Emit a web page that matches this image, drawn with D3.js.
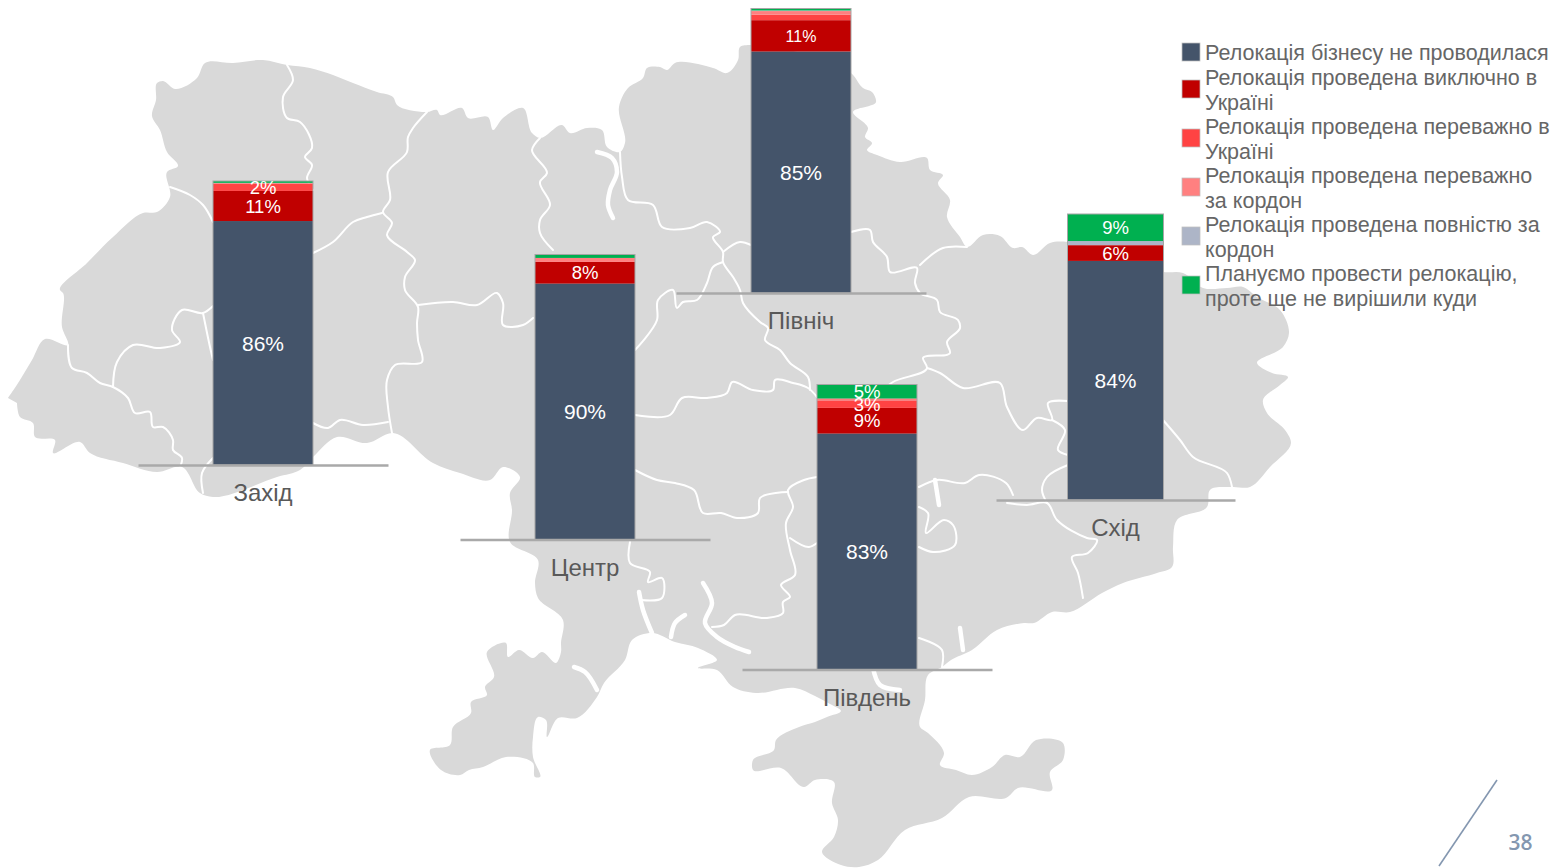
<!DOCTYPE html>
<html lang="uk">
<head>
<meta charset="utf-8">
<script src="https://cdn.jsdelivr.net/npm/d3@7"></script>
<style>
html,body{margin:0;padding:0;background:#fff;overflow:hidden}
svg{display:block;font-family:"Liberation Sans",Arial,sans-serif}
</style>
</head>
<body>
<svg id="c" width="1554" height="868"></svg>
<script>
// ---------- chart data (percent) ----------
const categories = ["Захід","Центр","Північ","Південь","Схід"];
const notRelocated   = [85.9, 89.8, 84.9, 82.8, 83.6];
const onlyUkraine    = [10.6,  7.6, 11.0,  9.0,  5.5];
const mostlyUkraine  = [2.45,  0.0,  1.9,  2.6,  0.0];
const mostlyAbroad   = [0.30,  1.4,  1.3,  0.7,  0.0];
const fullyAbroad    = [0.10,  0.0,  0.2,  0.0, 1.45];
const planned        = [0.65,  1.2,  0.7,  4.9, 9.45];
const seriesNames = [
  ["Релокація бізнесу не проводилася"],
  ["Релокація проведена виключно в","Україні"],
  ["Релокація проведена переважно в","Україні"],
  ["Релокація проведена переважно","за кордон"],
  ["Релокація проведена повністю за","кордон"],
  ["Плануємо провести релокацію,","проте ще не вирішили куди"]
];
const seriesValues = [notRelocated, onlyUkraine, mostlyUkraine, mostlyAbroad, fullyAbroad, planned];
const seriesColors = ["#44546a","#c00000","#ff4343","#ff8080","#adb5c7","#00b050"];
const pageNumber = "38";

// ---------- layout of the small charts placed over the map ----------
const axisLeft  = [138, 460, 676, 742, 996];
const axisRight = [388, 710, 926, 992, 1235];
const barWidth  = [100, 100, 100, 100, 96];
const plotBase  = [465, 539.5, 293, 669.5, 500];
const plotTop   = [181, 254.5, 8.5, 384.5, 214];

// ---------- background map outline (decorative, traced in page pixels) ----------
const mapOutline = [[8,398],[20,380],[32,360],[45,339],[68,345],[62,327],[63,293],[60,290],[87,263],[113,237],[143,213],[157,212],[170,197],[167,172],[178,166],[167,152],[160,130],[152,116],[156,100],[157,83],[163,81],[175,89],[197,78],[205,63],[233,63],[263,60],[287,65],[310,68],[333,75],[353,83],[377,92],[393,97],[397,105],[427,112],[437,110],[440,115],[462,108],[468,118],[488,117],[493,130],[503,118],[523,108],[532,133],[540,138],[562,125],[570,133],[587,128],[602,130],[607,147],[620,152],[625,143],[619,107],[628,88],[643,78],[647,68],[660,67],[667,70],[675,63],[713,68],[727,73],[738,60],[740,47],[751,45],[851,73],[863,88],[872,92],[876,102],[853,112],[868,128],[865,137],[872,143],[867,150],[877,155],[900,162],[927,158],[930,170],[943,175],[938,183],[950,200],[947,217],[960,237],[967,247],[983,235],[1000,236],[1013,248],[1022,247],[1033,255],[1050,243],[1068,242],[1163,272],[1183,273],[1203,288],[1227,288],[1243,287],[1257,297],[1280,310],[1289,333],[1283,347],[1257,363],[1272,373],[1288,377],[1280,385],[1263,400],[1267,413],[1285,430],[1291,443],[1270,467],[1250,487],[1232,487],[1210,490],[1207,507],[1177,520],[1173,547],[1172,567],[1157,573],[1123,583],[1102,593],[1070,612],[1052,612],[1034,623],[1024,623],[997,630],[972,650],[951,660],[942,667],[928,675],[925,700],[920,727],[928,733],[944,753],[940,765],[956,770],[972,775],[992,767],[1005,755],[1020,757],[1036,740],[1063,743],[1063,760],[1050,772],[1052,790],[1018,788],[1006,798],[969,797],[942,818],[905,830],[878,860],[859,867],[841,865],[822,852],[834,837],[838,820],[832,803],[834,782],[815,780],[804,787],[781,768],[753,770],[753,760],[774,750],[776,740],[799,727],[815,722],[827,717],[841,711],[830,704],[815,696],[795,688],[756,693],[733,687],[717,670],[698,668],[717,660],[698,648],[675,642],[652,633],[632,640],[625,660],[604,683],[597,697],[577,718],[558,718],[547,737],[546,720],[538,717],[533,737],[533,757],[540,777],[535,777],[533,763],[506,757],[483,767],[469,770],[460,775],[441,770],[430,750],[450,745],[453,727],[471,713],[471,702],[487,695],[485,687],[494,677],[487,652],[506,643],[508,657],[519,650],[533,658],[542,652],[556,663],[561,652],[561,643],[563,620],[538,598],[535,583],[538,560],[510,542],[512,510],[510,493],[520,477],[503,467],[490,480],[460,473],[433,463],[393,433],[367,443],[337,437],[313,457],[300,470],[277,477],[213,497],[200,493],[182,467],[157,472],[123,463],[90,453],[80,442],[53,453],[55,440],[35,437],[33,423],[20,417],[17,403]];
const mapBorders = [
 [[287,65],[293,80],[283,97],[287,118],[300,122],[312,148],[305,157],[312,165],[307,178],[313,190]],
 [[170,187],[190,195],[203,205],[213,222]],
 [[427,112],[413,128],[408,137],[407,152],[388,172],[390,200],[383,212],[392,223],[387,235],[407,252],[415,260],[405,277],[405,290],[418,307],[417,323],[418,340],[422,362],[395,365],[387,380],[388,407],[392,433]],
 [[313,253],[333,242],[353,222],[367,217],[382,213]],
 [[313,423],[328,428],[340,420],[363,425],[388,422]],
 [[418,305],[453,302],[477,305],[497,293],[503,303],[503,325],[523,325],[533,318]],
 [[68,345],[72,368],[87,373],[100,383],[113,387],[128,398],[135,413],[150,412],[153,427],[163,427],[173,440],[173,450],[182,458],[180,467]],
 [[113,387],[117,362],[133,345],[160,348],[180,342],[172,330],[182,310],[203,313],[213,306]],
 [[203,313],[210,347],[213,360]],
 [[213,458],[202,473],[203,493]],
 [[540,138],[532,150],[547,173],[540,182],[550,205],[540,220],[540,233],[553,250]],
 [[620,152],[622,177],[628,200],[653,205],[662,227],[690,228],[707,222],[720,232],[713,237],[723,252],[723,262],[733,277],[740,290],[743,303],[760,322],[768,328],[765,340],[780,350],[790,363],[808,377],[810,390]],
 [[723,252],[740,242],[751,245]],
 [[723,262],[713,267],[707,283],[697,300],[683,302],[677,308],[673,290],[658,300],[657,320],[635,350]],
 [[635,415],[670,415],[682,398],[707,398],[727,393],[732,382],[753,390],[773,390],[775,380],[793,383],[808,388],[817,397]],
 [[851,232],[870,230],[873,242],[887,257],[890,272],[917,268],[915,283],[920,293],[937,300],[940,312],[958,320],[960,328],[947,342],[950,353],[923,358],[927,368],[893,382],[880,392]],
 [[967,247],[943,248],[920,265]],
 [[927,368],[940,373],[963,388],[1000,383],[1007,407],[1023,430],[1037,418],[1052,420],[1048,403],[1068,401]],
 [[1052,420],[1065,430],[1058,450],[1068,455]],
 [[1068,465],[1047,477],[1042,490],[1047,503]],
 [[919,487],[937,480],[965,483],[979,475],[1006,483],[1013,495]],
 [[1007,503],[1027,505],[1047,503],[1057,520],[1087,538],[1097,540],[1088,553],[1072,557],[1078,573],[1083,598]],
 [[1163,420],[1180,440],[1193,457],[1227,473],[1232,487]],
 [[630,542],[630,563],[650,572],[648,582],[662,578],[662,598],[641,600]],
 [[712,627],[724,625],[735,615],[767,618],[783,613],[783,602],[790,597],[781,585],[795,575],[790,550],[786,523],[793,507],[788,490],[804,480],[817,477]],
 [[790,538],[809,547],[817,543]],
 [[788,492],[760,498],[758,513],[737,518],[721,513],[703,513],[694,490],[675,483],[657,480],[635,470]],
 [[919,507],[928,513],[926,533],[944,520],[953,525],[955,545],[933,552],[919,547]],
 [[919,638],[942,650],[942,667]]
];
const mapWaters = [
 [[597,152],[612,158],[617,172],[610,190],[608,205],[613,218]],
 [[935,480],[939,505]],
 [[639,592],[643,610],[652,633]],
 [[685,615],[675,623],[671,637]],
 [[703,583],[712,603],[705,623],[717,637],[735,647],[749,652]],
 [[574,667],[585,672],[597,690]],
 [[960,628],[963,650]],
 [[873,668],[880,685],[900,690]]
];

// ---------- drawing ----------
const svg = d3.select("#c");
const straight = d3.line();
const smooth = d3.line().curve(d3.curveCatmullRom.alpha(0.7));

const mapG = svg.append("g");
mapG.append("path").attr("d", smooth(mapOutline) + "Z").attr("fill", "#d9d9d9");
mapG.selectAll("path.b").data(mapBorders).join("path").attr("class","b")
  .attr("d", smooth).attr("fill","none").attr("stroke","#fff").attr("stroke-width",2)
  .attr("stroke-linejoin","round").attr("stroke-linecap","round");
mapG.selectAll("path.w").data(mapWaters).join("path").attr("class","w")
  .attr("d", smooth).attr("fill","none").attr("stroke","#fff").attr("stroke-width",4.5)
  .attr("stroke-linejoin","round").attr("stroke-linecap","round");

const labelSize = (cat, si) => si === 0 ? 21 : (cat === "Північ" ? 16 : 18.5);

categories.forEach((cat, i) => {
  const R = axisRight[i] - axisLeft[i];
  const ratio = barWidth[i] / R;
  const pad = (1 - ratio) / (1 + ratio);
  const x = d3.scaleBand().domain([cat]).range([axisLeft[i], axisRight[i]]).padding(pad);
  const y = d3.scaleLinear().domain([0, 100]).range([plotBase[i], plotTop[i]]);
  const g = svg.append("g");

  const stack = [];
  let acc = 0;
  seriesValues.forEach((vals, si) => {
    stack.push({si, v: vals[i], y0: acc, y1: acc + vals[i]});
    acc += vals[i];
  });

  g.selectAll("rect.seg").data(stack.filter(d => d.v > 0)).join("rect").attr("class","seg")
    .attr("x", x(cat)).attr("width", x.bandwidth())
    .attr("y", d => y(d.y1)).attr("height", d => y(d.y0) - y(d.y1))
    .attr("fill", d => seriesColors[d.si]);

  g.append("rect")
    .attr("x", x(cat)).attr("width", x.bandwidth())
    .attr("y", y(acc)).attr("height", y(0) - y(acc))
    .attr("fill","none").attr("stroke","#a6a6a6").attr("stroke-width",1);

  g.selectAll("text.val").data(stack.filter(d => d.v >= 2)).join("text").attr("class","val")
    .attr("x", x(cat) + x.bandwidth()/2)
    .attr("y", d => y((d.y0 + d.y1)/2))
    .attr("dy", "0.36em")
    .attr("text-anchor","middle").attr("fill","#fff")
    .attr("font-size", d => labelSize(cat, d.si))
    .text(d => Math.round(d.v) + "%");

  const axis = g.append("g")
    .attr("transform", `translate(0,${plotBase[i]})`)
    .call(d3.axisBottom(x).tickSize(0).tickPadding(19));
  axis.select(".domain").attr("stroke","#a9a9a9").attr("stroke-width",2.4);
  axis.selectAll("text").attr("fill","#595959").attr("font-size",24)
    .attr("font-family",'"Liberation Sans",Arial,sans-serif');
});

// ---------- legend ----------
const legendSwatchCentre = [52, 89, 138, 187, 236, 285];
const legendFirstBaseline = [60, 85, 134, 183, 232, 281];
const leg = svg.append("g");
seriesNames.forEach((lines, i) => {
  leg.append("rect").attr("x",1182).attr("y",legendSwatchCentre[i]-9).attr("width",18).attr("height",18)
    .attr("fill",seriesColors[i]).attr("stroke","#bfbfbf").attr("stroke-width",0.75);
  const t = leg.append("text").attr("fill","#666").attr("font-size",21.5);
  lines.forEach((s, k) => t.append("tspan").attr("x",1205).attr("y",legendFirstBaseline[i] + k*24.5).text(s));
});

// ---------- page furniture ----------
const furn = svg.append("g");
furn.append("path").attr("d", straight([[1497,780],[1439,866]])).attr("stroke","#8497b0").attr("stroke-width",1.6).attr("fill","none");
furn.append("text").attr("x",1520.5).attr("y",850).attr("text-anchor","middle")
  .attr("font-family",'"Open Sans",sans-serif').attr("font-size",21).attr("font-weight",600)
  .attr("fill","#8497b0").text(pageNumber);
</script>
</body>
</html>
